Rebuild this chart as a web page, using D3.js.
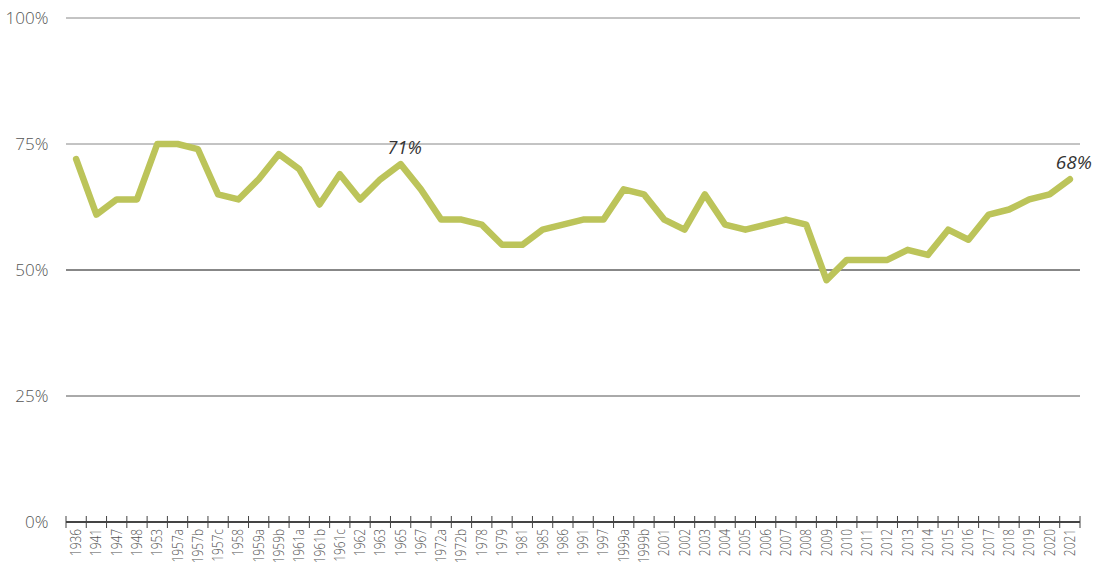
<!DOCTYPE html>
<html>
<head>
<meta charset="utf-8">
<script src="https://cdn.jsdelivr.net/npm/d3@7"></script>
<style>
  body { margin: 0; background: #fff; }
  svg text { font-family: "Open Sans", sans-serif; }
</style>
</head>
<body>
<div id="chart"></div>
<script>
const categories = ['1936','1941','1947','1948','1953','1957a','1957b','1957c','1958','1959a',
  '1959b','1961a','1961b','1961c','1962','1963','1965','1967','1972a','1972b',
  '1978','1979','1981','1985','1986','1991','1997','1999a','1999b','2001',
  '2002','2003','2004','2005','2006','2007','2008','2009','2010','2011',
  '2012','2013','2014','2015','2016','2017','2018','2019','2020','2021'];
const values = [72,61,64,64,75,75,74,65,64,68,
  73,70,63,69,64,68,71,66,60,60,
  59,55,55,58,59,60,60,66,65,60,
  58,65,59,58,59,60,59,48,52,52,
  52,54,53,58,56,61,62,64,65,68];
const yTicks = [0, 25, 50, 75, 100];
const callouts = ['1965', '2021'];

const width = 1102, height = 565;
const margin = { top: 18, right: 22, bottom: 43, left: 66 };
const innerW = width - margin.left - margin.right;
const innerH = height - margin.top - margin.bottom;

const svg = d3.select('#chart').append('svg')
  .attr('width', width).attr('height', height);
const g = svg.append('g').attr('transform', `translate(${margin.left},${margin.top})`);

const x = d3.scaleBand().domain(categories).range([0, innerW]);
const y = d3.scaleLinear().domain([0, 100]).range([innerH, 0]);

// grid lines
const gridColor = { 25: '#555', 50: '#111', 75: '#888', 100: '#888' };
g.selectAll('.grid').data(yTicks.filter(d => d > 0)).enter().append('line')
  .attr('x1', 0).attr('x2', innerW)
  .attr('y1', d => y(d)).attr('y2', d => y(d))
  .attr('stroke', d => gridColor[d]).attr('stroke-width', 1);

// y labels
g.selectAll('.ylab').data(yTicks).enter().append('text')
  .attr('x', -16).attr('y', d => y(d)).attr('dy', '0.35em')
  .attr('text-anchor', 'end')
  .style('font-size', '17px').style('font-weight', 300).attr('fill', '#555')
  .attr('transform', d => `translate(${-16 * 0.1},0)`)
  .text(d => d + '%');

// x axis with ticks at band edges
const xa = g.append('g').attr('transform', `translate(0,${innerH})`);
xa.append('line').attr('x1', 0).attr('x2', innerW).attr('stroke', '#444').attr('stroke-width', 2);
const edges = categories.map(c => x(c)).concat([innerW]);
xa.selectAll('.tick').data(edges).enter().append('line')
  .attr('x1', d => d).attr('x2', d => d).attr('y1', -6).attr('y2', 6)
  .attr('stroke', '#444').attr('stroke-width', 1);
xa.selectAll('.xlab').data(categories).enter().append('text')
  .attr('transform', d => `translate(${x(d) + x.bandwidth() / 2 + 5},7) rotate(-90) scale(0.85,1)`)
  .attr('text-anchor', 'end')
  .style('font-size', '14px').style('font-weight', 300).attr('fill', '#555')
  .text(d => d);

// line
const pts = categories.map((c, i) => ({ c, v: values[i] }));
const line = d3.line().x(d => x(d.c) + x.bandwidth() / 2).y(d => y(d.v));
g.append('path').datum(pts)
  .attr('d', line).attr('fill', 'none')
  .attr('stroke', '#bcc45a').attr('stroke-width', 6.5)
  .attr('stroke-linejoin', 'round').attr('stroke-linecap', 'round');

// callouts
g.selectAll('.call').data(pts.filter(d => callouts.includes(d.c))).enter().append('text')
  .attr('x', d => x(d.c) + x.bandwidth() / 2 + 4)
  .attr('y', d => y(d.v) - 10)
  .attr('text-anchor', 'middle')
  .style('font-size', d => d.c === '2021' ? '19px' : '18px')
  .style('font-style', 'italic').attr('fill', '#333')
  .text(d => d.v + '%');
</script>
</body>
</html>
